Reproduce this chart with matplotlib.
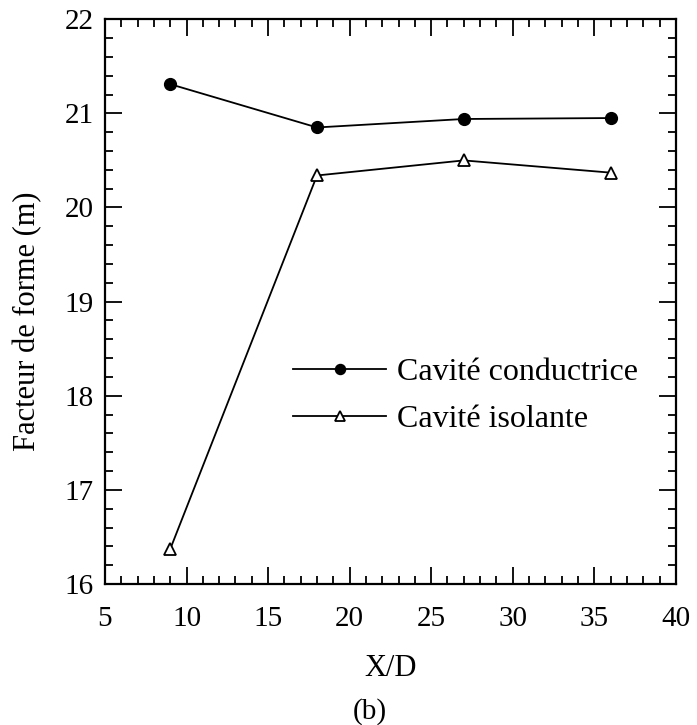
import matplotlib
matplotlib.use('Agg')
import matplotlib.pyplot as plt
from matplotlib.ticker import MultipleLocator

# Shape factor versus X/D for the two cavity types
x_d = [9, 18, 27, 36]
conductrice = [21.31, 20.85, 20.94, 20.95]
isolante = [16.37, 20.34, 20.50, 20.37]

x_ticks = [5, 10, 15, 20, 25, 30, 35, 40]
y_ticks = [16, 17, 18, 19, 20, 21, 22]

plt.rcParams['font.family'] = ['Liberation Serif', 'DejaVu Serif']

fig = plt.figure(figsize=(6.97, 7.25), dpi=100)
ax = fig.add_axes([0.1506, 0.1945, 0.819, 0.779])

ax.plot(x_d, conductrice, color='black', linewidth=1.3, marker='o',
        markersize=8.5, markerfacecolor='black', markeredgecolor='black',
        label='Cavité conductrice')
ax.plot(x_d, isolante, color='black', linewidth=1.3, marker='^',
        markersize=8.5, markerfacecolor='white', markeredgecolor='black',
        markeredgewidth=1.3, label='Cavité isolante')

ax.set_xlim(5, 40)
ax.set_ylim(16, 22)
ax.set_xticks(x_ticks)
ax.set_yticks(y_ticks)
ax.xaxis.set_minor_locator(MultipleLocator(1))
ax.yaxis.set_minor_locator(MultipleLocator(0.2))

ax.tick_params(which='both', direction='in', top=True, right=True,
               width=1.3, labelsize=21, colors='black')
ax.tick_params(which='major', length=12)
ax.tick_params(which='minor', length=6)
ax.tick_params(axis='x', which='major', pad=16)
ax.tick_params(axis='y', which='major', pad=8)
for spine in ax.spines.values():
    spine.set_linewidth(1.6)

ax.set_xlabel('X/D', fontsize=22, labelpad=16)
ax.set_ylabel('Facteur de forme (m)', fontsize=22)
ax.yaxis.set_label_coords(-0.11, 0.465)

ax.legend(loc='upper left', bbox_to_anchor=(0.33, 0.40),
          frameon=False, fontsize=23, handlelength=2.9,
          handletextpad=0.35, labelspacing=0.55, borderpad=0,
          borderaxespad=0, markerscale=0.85)

fig.text(0.531, 0.009, '(b)', fontsize=21, ha='center', va='baseline')

plt.savefig('out.png', dpi=100)
